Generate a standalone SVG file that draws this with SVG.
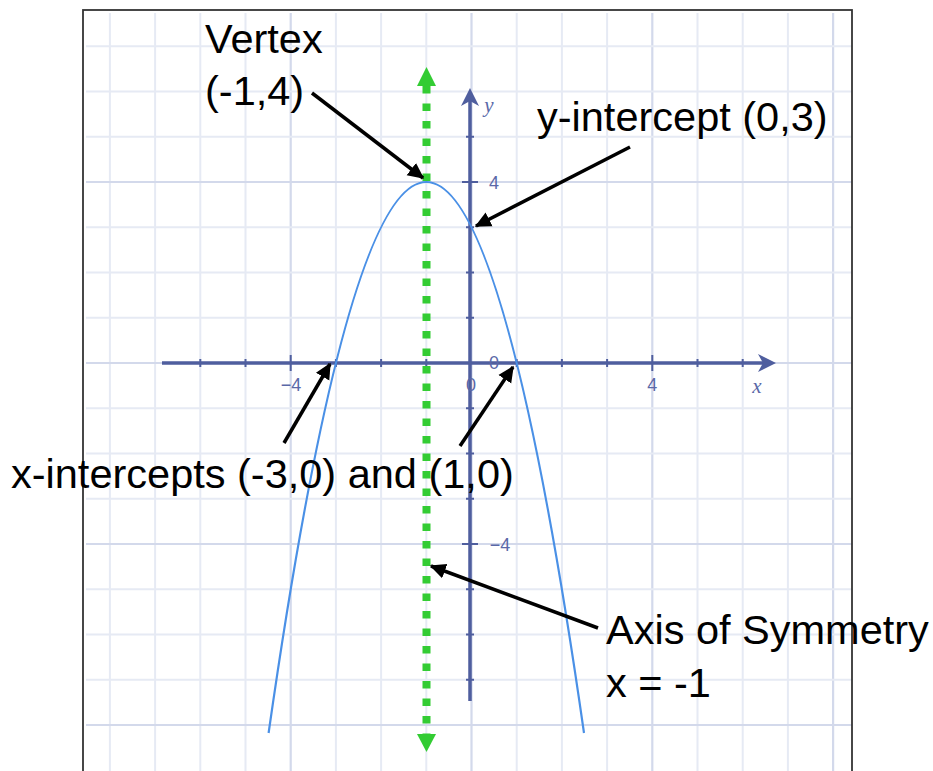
<svg xmlns="http://www.w3.org/2000/svg" width="933" height="771" viewBox="0 0 933 771">
<style>
.grid{stroke:#e6eaf4;stroke-width:2;fill:none}
.gridm{stroke:#d3d9eb;stroke-width:2.2;fill:none}
.axis{stroke:#4f5e9e;stroke-width:3.5;fill:none}
.tick{stroke:#4f5e9e;stroke-width:2;fill:none}
.tl{font-family:"Liberation Sans",Arial,sans-serif;font-size:18px;fill:#5a68a8}
.var{font-family:"Liberation Serif","Times New Roman",serif;font-style:italic;font-size:21px;fill:#5a68a8}
.lbl{font-family:"Liberation Sans",Arial,sans-serif;font-size:41.5px;fill:#000}
.call{stroke:#000;stroke-width:3.5;fill:none;marker-end:url(#ah)}
</style>
<defs>
<marker id="ah" markerWidth="5" markerHeight="5" refX="4.2" refY="2.5" orient="auto" markerUnits="strokeWidth">
<path d="M0,0.3 L4.6,2.5 L0,4.7 Z" fill="#000"/>
</marker>
</defs>
<rect width="933" height="771" fill="#fff"/>
<g id="grid">
<path class="grid" d="M109.9,13V771M155.1,13V771M200.3,13V771M245.5,13V771M335.9,13V771M381.1,13V771M426.3,13V771M516.7,13V771M561.9,13V771M607.1,13V771M697.5,13V771M742.7,13V771M787.9,13V771"/>
<path class="gridm" d="M290.7,13V771M471.5,13V771M652.3,13V771M833.1,13V771"/>
<path class="grid" d="M86,46.25H852M86,91.5H852M86,136.75H852M86,227.25H852M86,272.5H852M86,317.75H852M86,408.25H852M86,453.5H852M86,498.75H852M86,589.25H852M86,634.5H852M86,679.75H852"/>
<path class="gridm" d="M86,182H852M86,363H852M86,544H852M86,725H852"/>
</g>
<rect id="frame" x="83" y="10" width="769" height="800" fill="none" stroke="#333" stroke-width="1.8"/>
<g id="axes">
<path class="axis" d="M162,363H768M470,96V701"/>
<path d="M776,363 L758,354 L763,363 L758,372 Z" fill="#4f5e9e"/>
<path d="M470,88 L461,106 L470,101 L479,106 Z" fill="#4f5e9e"/>
<path class="tick" d="M200.3,359V367M245.5,359V367M335.9,359V367M381.1,359V367M426.3,359V367M516.7,359V367M561.9,359V367M607.1,359V367M697.5,359V367M742.7,359V367"/>
<path class="tick" d="M290.7,355V371M652.3,355V371"/>
<path class="tick" d="M466,136.75H474M466,227.25H474M466,272.5H474M466,317.75H474M466,408.25H474M466,453.5H474M466,498.75H474M466,589.25H474M466,634.5H474M466,679.75H474"/>
<path class="tick" d="M462,182H478M462,544H478"/>
<text class="tl" x="291" y="391" text-anchor="middle">−4</text>
<text class="tl" x="652.3" y="391" text-anchor="middle">4</text>
<text class="tl" x="471" y="391" text-anchor="middle">0</text>
<text class="tl" x="494" y="369" text-anchor="middle">0</text>
<text class="tl" x="494" y="189" text-anchor="middle">4</text>
<text class="tl" x="500" y="551" text-anchor="middle">−4</text>
<text class="var" x="757" y="393" text-anchor="middle">x</text>
<text class="var" x="489" y="112" text-anchor="middle">y</text>
</g>
<g id="parabola">
<path d="M268.6,733 Q426.3,-369 584,733" fill="none" stroke="#4a90e6" stroke-width="2.2"/>
</g>
<g id="symmetry-axis">
<path d="M426.5,86V734" fill="none" stroke="#33cc33" stroke-width="8" stroke-dasharray="7.5 10"/>
<path d="M426.5,67 L417,86 L436,86 Z" fill="#33cc33"/>
<path d="M426.5,752 L417,734 L436,734 Z" fill="#33cc33"/>
</g>
<g id="connectors">
<path class="call" d="M312,93 L423,178"/>
<path class="call" d="M630,147 L476,226"/>
<path class="call" d="M284,443 L330,364"/>
<path class="call" d="M460,446 L513,367"/>
<path class="call" d="M598,628 L431,566"/>
</g>
<g id="vertex-label">
<text class="lbl" x="205" y="53">Vertex</text>
<text class="lbl" x="205" y="105">(-1,4)</text>
</g>
<g id="y-intercept-label">
<text class="lbl" x="537" y="131">y-intercept (0,3)</text>
</g>
<g id="x-intercepts-label">
<text class="lbl" x="11" y="488">x-intercepts (-3,0) and (1,0)</text>
</g>
<g id="axis-label">
<text class="lbl" x="606" y="644">Axis of Symmetry</text>
<text class="lbl" x="606" y="697">x = -1</text>
</g>
</svg>
